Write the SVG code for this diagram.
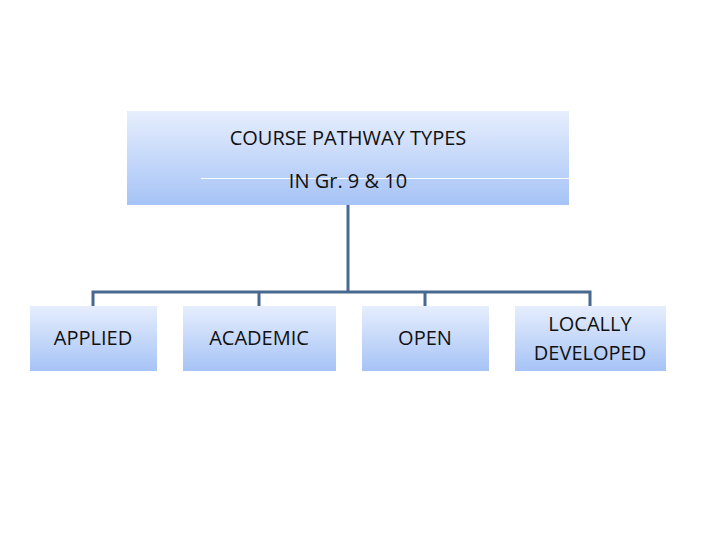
<svg xmlns="http://www.w3.org/2000/svg" width="720" height="540" viewBox="0 0 720 540">
<defs>
<linearGradient id="g" x1="0" y1="0" x2="0" y2="1">
<stop offset="0" stop-color="#e6eefd"/><stop offset="1" stop-color="#a6c3f6"/>
</linearGradient>
<style>
.b{fill:url(#g)}
.t{font-family:"Open Sans","Liberation Sans",sans-serif;font-size:20px;fill:#111;text-anchor:middle}
.c{stroke:#46698f;stroke-width:3;fill:none}
</style>
</defs>
<rect width="720" height="540" fill="#fff"/>
<g id="connectors">
<path class="c" d="M348 205V292M93 306V292H590V306M259 292V306M425 292V306"/>
</g>
<g id="root">
<rect class="b" x="127" y="111" width="442" height="94"/>
<line x1="201" y1="178.5" x2="569" y2="178.5" stroke="#fff" stroke-width="1"/>
<text class="t" x="348" y="145">COURSE PATHWAY TYPES</text>
<text class="t" x="348" y="188">IN Gr. 9 &amp; 10</text>
</g>
<g id="applied"><rect class="b" x="30" y="306" width="127" height="65"/><text class="t" x="93" y="345">APPLIED</text></g>
<g id="academic"><rect class="b" x="183" y="306" width="153" height="65"/><text class="t" x="259" y="345">ACADEMIC</text></g>
<g id="open"><rect class="b" x="362" y="306" width="127" height="65"/><text class="t" x="425" y="345">OPEN</text></g>
<g id="local"><rect class="b" x="515" y="306" width="151" height="65"/><text class="t" x="590" y="331">LOCALLY</text><text class="t" x="590" y="360">DEVELOPED</text></g>
</svg>
